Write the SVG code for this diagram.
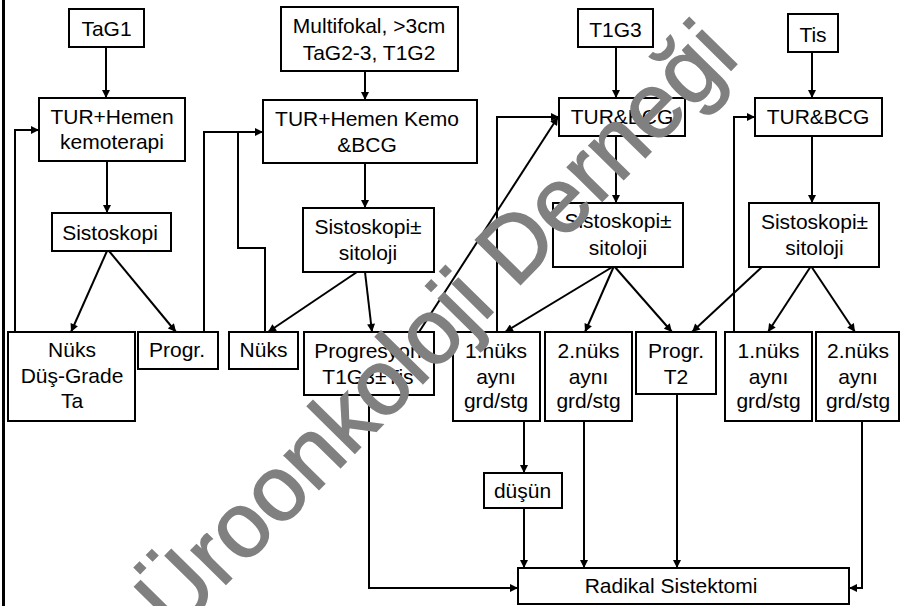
<svg xmlns="http://www.w3.org/2000/svg" width="904" height="606" viewBox="0 0 904 606">
<defs>
<marker id="ah" viewBox="0 0 10 10" refX="10" refY="5" markerWidth="9" markerHeight="8" markerUnits="userSpaceOnUse" orient="auto">
<path d="M0,0 L10,5 L0,10 z" fill="#000"/>
</marker>
<style>
.box{fill:#fff;stroke:#000;stroke-width:2}
.t{font-family:"Liberation Sans",Arial,sans-serif;font-size:21px;fill:#000;text-anchor:middle}
.c{fill:none;stroke:#000;stroke-width:2}
.a{marker-end:url(#ah)}
.wm{font-family:"Liberation Sans",Arial,sans-serif;font-size:92px;fill:#808080;stroke:#808080;stroke-width:1.5;text-anchor:middle}
</style>
</defs>
<rect x="0" y="0" width="904" height="606" fill="#fff"/>
<line x1="3.5" y1="0" x2="3.5" y2="606" stroke="#000" stroke-width="3"/>
<g id="connectors">
<path class="c a" d="M106,47 L106,98"/>
<path class="c a" d="M107,161 L107,213"/>
<path class="c a" d="M107,251 L71,332"/>
<path class="c a" d="M109,251 L176,332"/>
<path class="c a" d="M15,332 L15,130 L39,130"/>
<path class="c a" d="M204,332 L204,132 L263,132"/>
<path class="c" d="M265,332 L265,248 L238,248 L238,132"/>
<path class="c a" d="M365,71 L365,100"/>
<path class="c a" d="M365,163 L365,208"/>
<path class="c a" d="M357,272 L268,332"/>
<path class="c a" d="M365,272 L372,332"/>
<path class="c a" d="M419,332 L558,117"/>
<path class="c a" d="M369,395 L369,588 L518,588"/>
<path class="c a" d="M497,332 L497,117 L559,117"/>
<path class="c a" d="M616,47 L616,98"/>
<path class="c a" d="M616,136 L616,203"/>
<path class="c a" d="M614,266 L505,332"/>
<path class="c a" d="M614,266 L585,332"/>
<path class="c a" d="M614,266 L672,332"/>
<path class="c a" d="M812,52 L812,98"/>
<path class="c a" d="M812,136 L812,203"/>
<path class="c a" d="M763,266 L692,332"/>
<path class="c a" d="M811,266 L768,332"/>
<path class="c a" d="M811,266 L855,332"/>
<path class="c a" d="M734,332 L734,117 L755,117"/>
<path class="c a" d="M524,421 L524,473"/>
<path class="c a" d="M524,508 L524,568"/>
<path class="c a" d="M584,421 L584,568"/>
<path class="c a" d="M677,394 L677,568"/>
<path class="c a" d="M862,421 L862,588 L849,588"/>
</g>
<g id="n-tag1"><rect class="box" x="69" y="9" width="75" height="38"/><text class="t" x="106.5" y="36">TaG1</text></g>
<g id="n-turhemen"><rect class="box" x="39" y="98" width="146" height="63"/><text class="t" x="112" y="124">TUR+Hemen</text><text class="t" x="112" y="149">kemoterapi</text></g>
<g id="n-multifokal"><rect class="box" x="281" y="7" width="177" height="64"/><text class="t" x="369" y="33">Multifokal, &gt;3cm</text><text class="t" x="369" y="60">TaG2-3, T1G2</text></g>
<g id="n-turkemo"><rect class="box" x="263" y="100" width="214" height="63"/><text class="t" x="367" y="126">TUR+Hemen Kemo</text><text class="t" x="367" y="152">&amp;BCG</text></g>
<g id="n-t1g3"><rect class="box" x="578" y="9" width="75" height="38"/><text class="t" x="615.5" y="37">T1G3</text></g>
<g id="n-tis"><rect class="box" x="788" y="14" width="50" height="38"/><text class="t" x="813" y="42">Tis</text></g>
<g id="n-turbcg1"><rect class="box" x="559" y="98" width="126" height="38"/><text class="t" x="622" y="124">TUR&amp;BCG</text></g>
<g id="n-turbcg2"><rect class="box" x="755" y="98" width="127" height="38"/><text class="t" x="818" y="124">TUR&amp;BCG</text></g>
<g id="n-sisto1"><rect class="box" x="52" y="213" width="119" height="38"/><text class="t" x="110" y="240">Sistoskopi</text></g>
<g id="n-sisto2"><rect class="box" x="303" y="208" width="131" height="64"/><text class="t" x="368" y="234">Sistoskopi±</text><text class="t" x="368" y="260">sitoloji</text></g>
<g id="n-sisto3"><rect class="box" x="553" y="203" width="130" height="64"/><text class="t" x="618" y="228">Sistoskopi±</text><text class="t" x="618" y="255">sitoloji</text></g>
<g id="n-sisto4"><rect class="box" x="749" y="203" width="130" height="64"/><text class="t" x="814.5" y="229">Sistoskopi±</text><text class="t" x="814.5" y="255">sitoloji</text></g>
<g id="n-nuksdus"><rect class="box" x="8" y="332" width="127" height="89"/><text class="t" x="72" y="357">Nüks</text><text class="t" x="72" y="383">Düş-Grade</text><text class="t" x="72" y="408">Ta</text></g>
<g id="n-progr"><rect class="box" x="138" y="332" width="80" height="37"/><text class="t" x="177" y="357">Progr.</text></g>
<g id="n-nuks"><rect class="box" x="229" y="332" width="69" height="37"/><text class="t" x="263.5" y="357">Nüks</text></g>
<g id="n-progresyon"><rect class="box" x="304" y="332" width="130" height="63"/><text class="t" x="368" y="358">Progresyon</text><text class="t" x="368" y="384">T1G3±Tis</text></g>
<g id="n-nuks1a"><rect class="box" x="453" y="332" width="87" height="89"/><text class="t" x="496" y="358">1.nüks</text><text class="t" x="496" y="384">aynı</text><text class="t" x="496" y="408">grd/stg</text></g>
<g id="n-nuks2a"><rect class="box" x="545" y="332" width="87" height="89"/><text class="t" x="588.5" y="358">2.nüks</text><text class="t" x="588.5" y="384">aynı</text><text class="t" x="588.5" y="408">grd/stg</text></g>
<g id="n-progrt2"><rect class="box" x="636" y="332" width="80" height="62"/><text class="t" x="676" y="358">Progr.</text><text class="t" x="676" y="384">T2</text></g>
<g id="n-nuks1b"><rect class="box" x="725" y="332" width="87" height="89"/><text class="t" x="768.5" y="358">1.nüks</text><text class="t" x="768.5" y="384">aynı</text><text class="t" x="768.5" y="408">grd/stg</text></g>
<g id="n-nuks2b"><rect class="box" x="816" y="332" width="83" height="89"/><text class="t" x="858" y="358">2.nüks</text><text class="t" x="858" y="384">aynı</text><text class="t" x="858" y="408">grd/stg</text></g>
<g id="n-dusun"><rect class="box" x="484" y="473" width="78" height="35"/><text class="t" x="522.5" y="498">düşün</text></g>
<g id="n-radikal"><rect class="box" x="518" y="568" width="331" height="36"/><text class="t" x="671" y="593">Radikal Sistektomi</text></g>
<g id="watermark"><text class="wm" transform="translate(458,348) rotate(-45.5)">Üroonkoloji Derneği</text></g>
</svg>
